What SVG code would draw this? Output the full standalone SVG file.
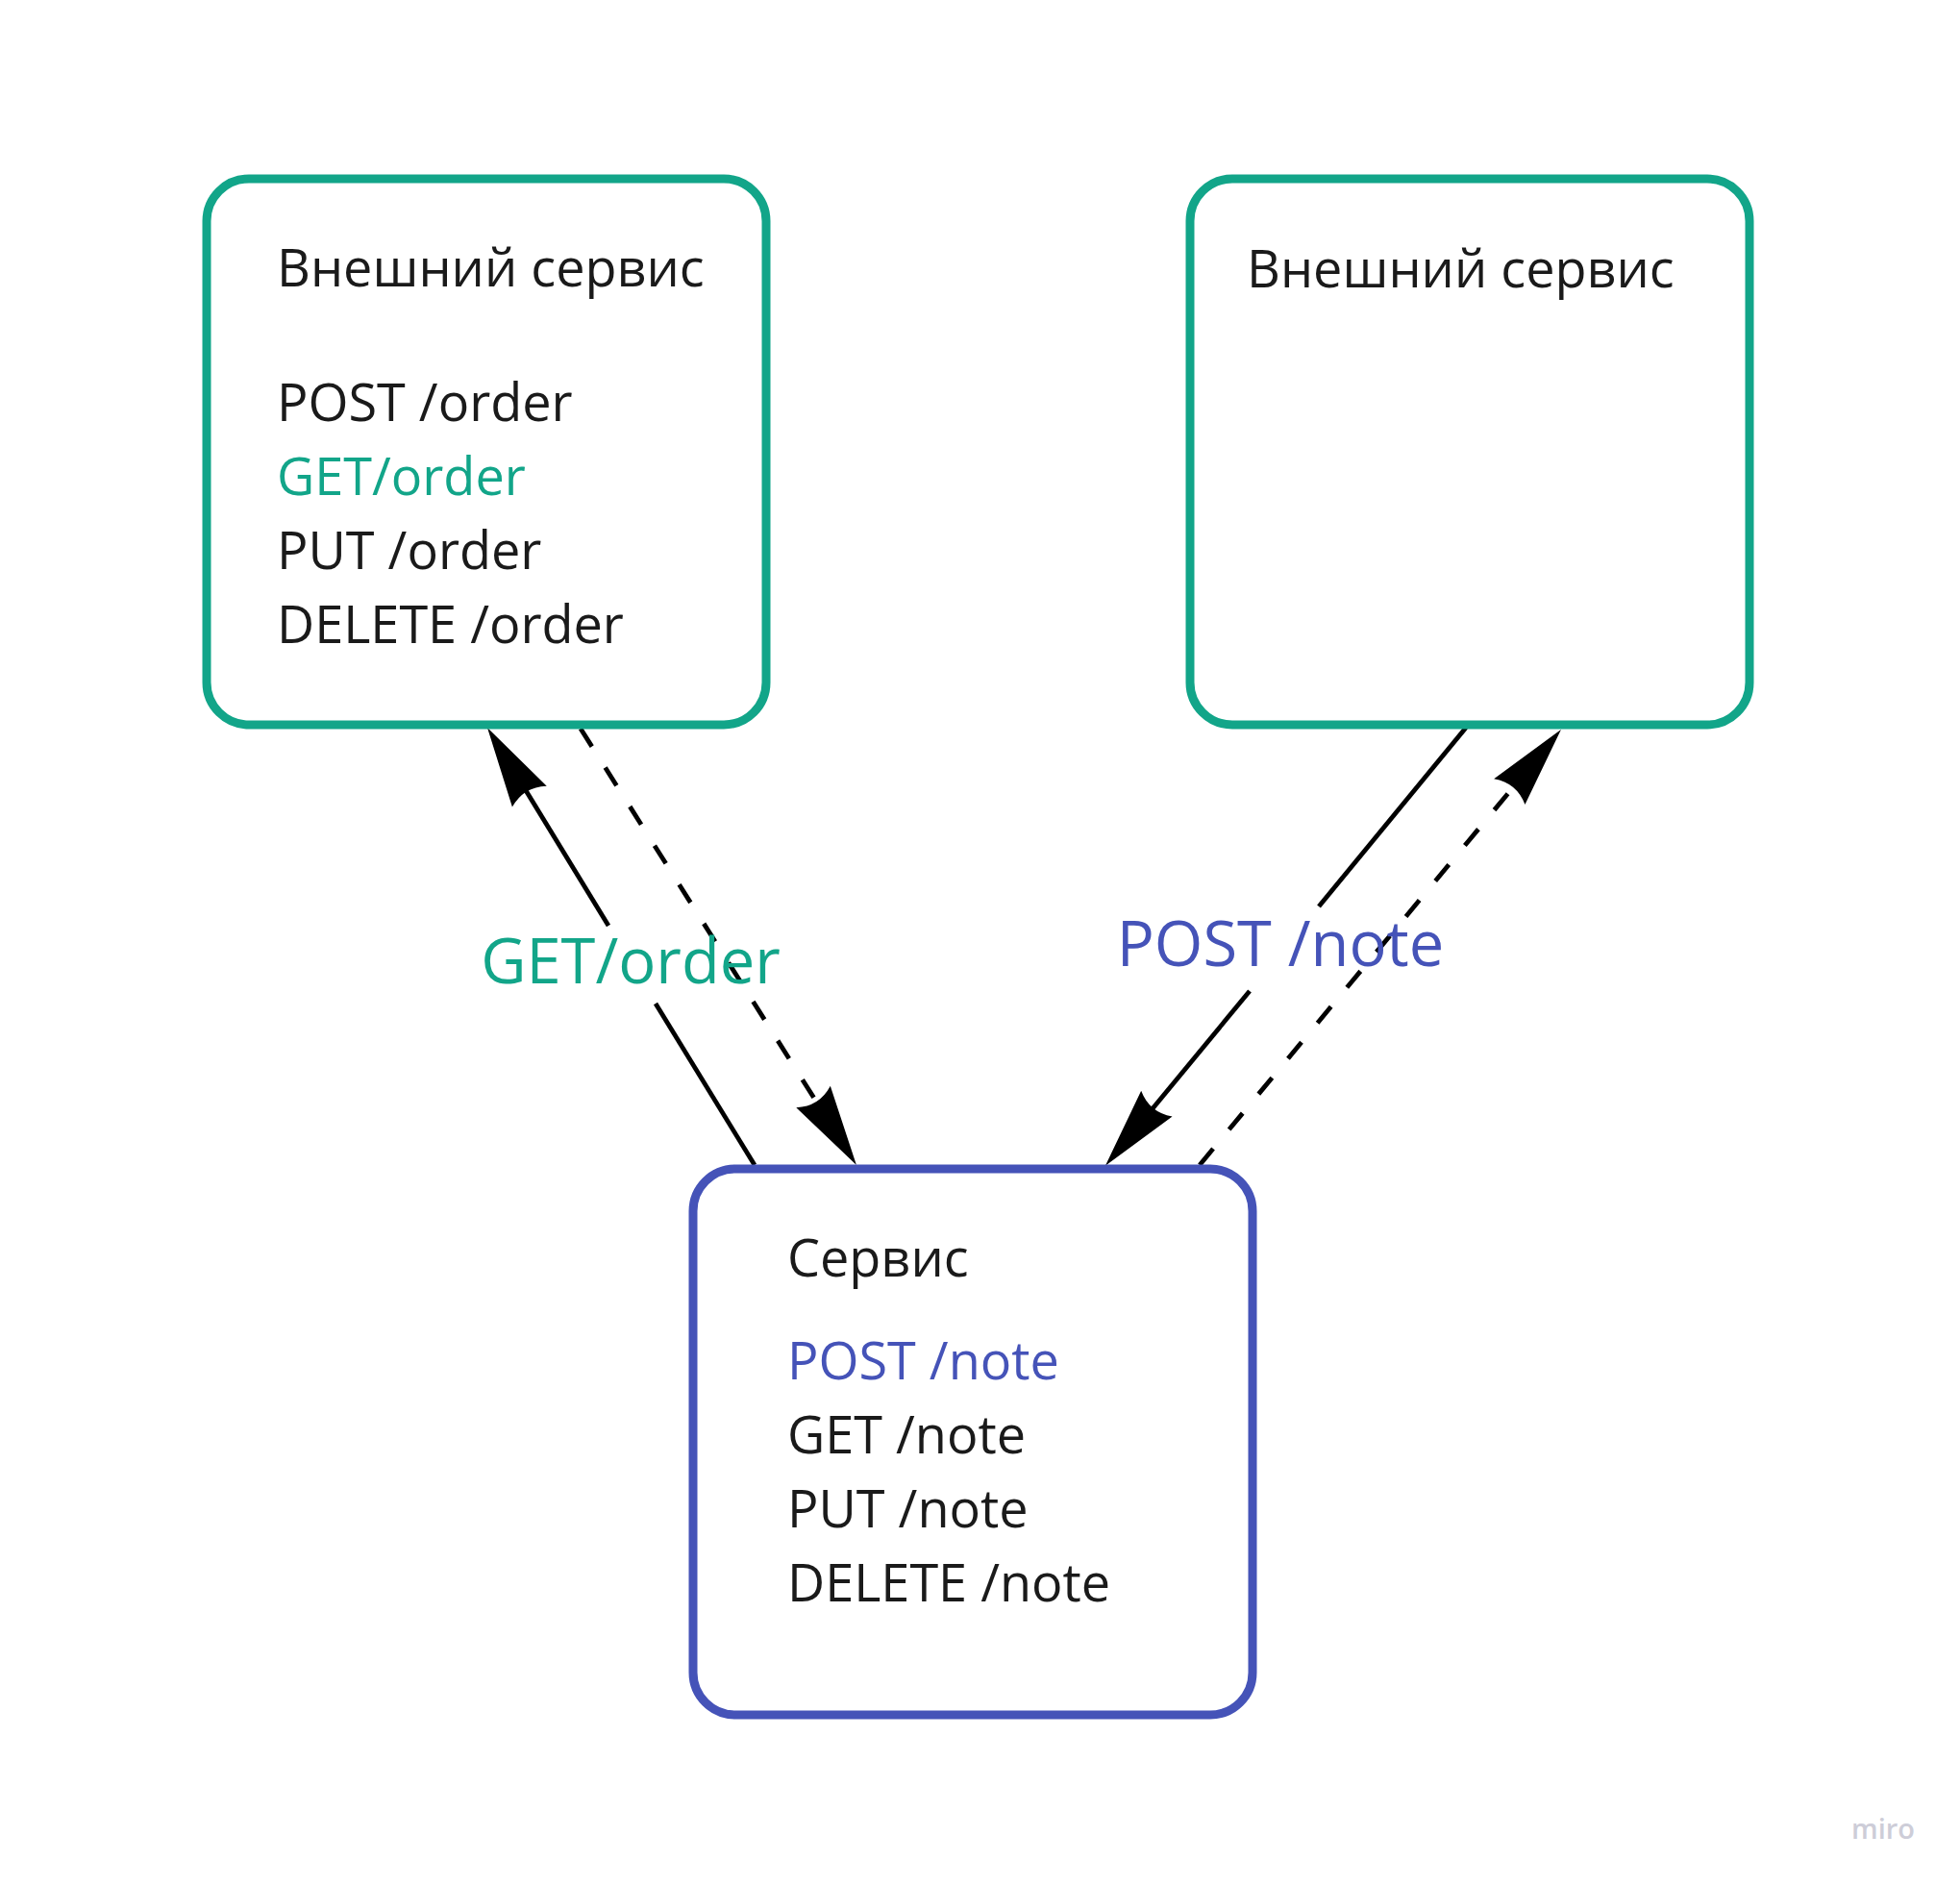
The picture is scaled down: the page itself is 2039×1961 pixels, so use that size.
<svg xmlns="http://www.w3.org/2000/svg" width="2039" height="1961" viewBox="0 0 2039 1961">
<style>
.box{fill:#ffffff;stroke-width:9}
.ext{stroke:#12a589}
.svc{stroke:#4553b8}
.t{font-family:"Open Sans","Noto Sans","Liberation Sans",sans-serif;font-size:54px;fill:#1a1a1a}
.g{fill:#12a589}
.b{fill:#4553b8}
.lbl{font-family:"Open Sans","Noto Sans","Liberation Sans",sans-serif;font-size:65px;text-anchor:middle}
.ln{fill:none;stroke:#000000;stroke-width:4.8}
.dash{stroke-dasharray:22 26}
.wm{font-family:"Open Sans","Noto Sans","Liberation Sans",sans-serif;font-size:29px;font-weight:600;fill:#cdcdd8}
</style>
<defs>
<marker id="ah" markerUnits="userSpaceOnUse" viewBox="-90 -25 95 50" markerWidth="95" markerHeight="50" refX="-74" refY="0" orient="auto" overflow="visible">
<path d="M0,0 L-84,-21 Q-72,0 -84,21 Z" fill="#000000"/>
</marker>
</defs>
<rect width="2039" height="1961" fill="#ffffff"/>
<g id="connectors">
<g id="c1">
<line class="ln" x1="785" y1="1212" x2="682" y2="1044"/>
<line class="ln" x1="633" y1="963" x2="545.6" y2="820.1" marker-end="url(#ah)"/>
</g>
<line id="c2" class="ln dash" x1="604" y1="758" x2="851.4" y2="1149.5" marker-end="url(#ah)"/>
<g id="c3">
<line class="ln" x1="1525" y1="757" x2="1372" y2="943"/>
<line class="ln" x1="1300" y1="1031" x2="1197" y2="1155.8" marker-end="url(#ah)"/>
</g>
<line id="c4" class="ln dash" x1="1248" y1="1212" x2="1576.7" y2="815.9" marker-end="url(#ah)"/>
<text class="lbl g" x="656" y="1023">GET/order</text>
<text class="lbl b" x="1332" y="1005">POST /note</text>
</g>
<g id="ext1">
<rect class="box ext" x="215" y="186" width="582" height="568" rx="44"/>
<text class="t" x="288" y="298">Внешний сервис</text>
<text class="t" x="288" y="438">POST /order</text>
<text class="t g" x="288" y="515">GET/order</text>
<text class="t" x="288" y="592">PUT /order</text>
<text class="t" x="288" y="669">DELETE /order</text>
</g>
<g id="ext2">
<rect class="box ext" x="1238" y="186" width="582" height="568" rx="44"/>
<text class="t" x="1297" y="299">Внешний сервис</text>
</g>
<g id="svc">
<rect class="box svc" x="721" y="1216" width="582" height="568" rx="44"/>
<text class="t" x="819" y="1328">Сервис</text>
<text class="t b" x="819" y="1435">POST /note</text>
<text class="t" x="819" y="1512">GET /note</text>
<text class="t" x="819" y="1589">PUT /note</text>
<text class="t" x="819" y="1666">DELETE /note</text>
</g>
<text class="wm" x="1926" y="1913">miro</text>
</svg>
